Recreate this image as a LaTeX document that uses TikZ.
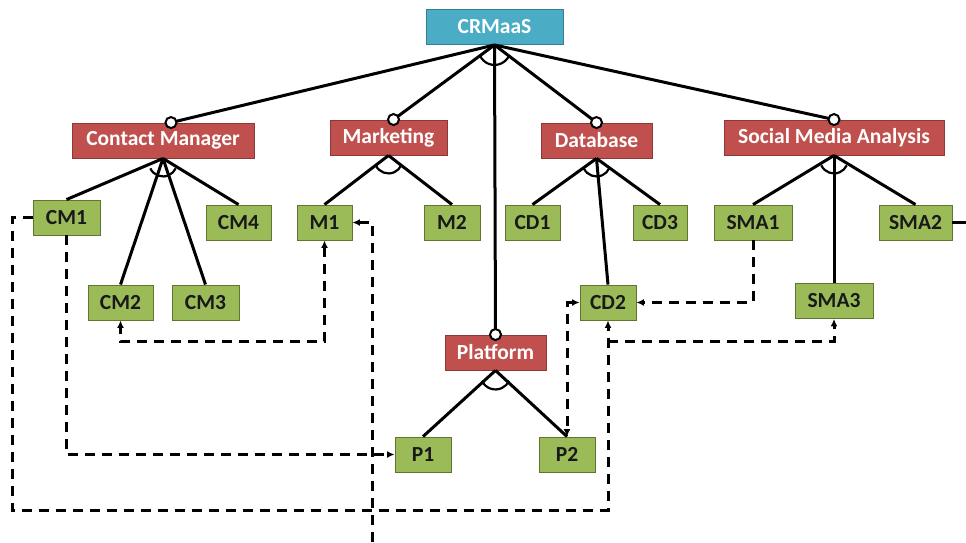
\documentclass[tikz,border=0pt]{standalone}
\usepackage{fontspec}
\setmainfont{Carlito}
\usetikzlibrary{arrows.meta,calc}

\definecolor{rootfill}{HTML}{4BACC6}
\definecolor{rootline}{HTML}{357D91}
\definecolor{featfill}{HTML}{C0504D}
\definecolor{featline}{HTML}{8C3836}
\definecolor{leaffill}{HTML}{9BBB59}
\definecolor{leafline}{HTML}{5F7530}

% group arc hanging just below a parent's junction point
\newcommand\grouparc[2]{%
  \draw[line width=2.2pt] ([shift={(-155:#2)},yshift=-4pt]#1)
    arc[start angle=-155,end angle=-25,radius=#2];}
% optional-feature marker
\newcommand\optmark[1]{%
  \draw[line width=2pt,fill=white] (#1) circle[radius=5.5pt];}

\begin{document}
\begin{tikzpicture}[x=1pt,y=-1pt,
  box/.style={draw,line width=0.9pt,inner sep=0pt,minimum height=35pt,
    font=\bfseries\fontsize{21.5}{24}\selectfont},
  root/.style={box,fill=rootfill,draw=rootline,text=white},
  feat/.style={box,fill=featfill,draw=featline,text=white},
  leaf/.style={box,fill=leaffill,draw=leafline,text=black!90},
  tree/.style={line width=3pt},
  dep/.style={line width=3pt,dash pattern=on 10pt off 7pt},
  >={Latex[length=7.5pt,width=7pt]}]

\useasboundingbox (0,0) rectangle (966,542);

% features
\node[root,minimum width=137pt] (crm) at (494.5,27) {CRMaaS};
\node[feat,minimum width=182pt] (cm)  at (163,140.5) {Contact Manager};
\node[feat,minimum width=117pt] (mk)  at (388.5,137.5) {Marketing};
\node[feat,minimum width=111pt] (db)  at (596.5,140.5) {Database};
\node[feat,minimum width=220pt] (sma) at (834,137.5) {Social Media Analysis};
\node[feat,minimum width=101pt] (pf)  at (495.5,352.5) {Platform};

\node[leaf,minimum width=67pt] (cm1)  at (66.5,217.5) {CM1};
\node[leaf,minimum width=65pt] (cm4)  at (238.5,222.5) {CM4};
\node[leaf,minimum width=55pt] (m1)   at (324.5,222.5) {M1};
\node[leaf,minimum width=56pt] (m2)   at (452,222.5) {M2};
\node[leaf,minimum width=55pt] (cd1)  at (532.5,222.5) {CD1};
\node[leaf,minimum width=54pt] (cd3)  at (660,222.5) {CD3};
\node[leaf,minimum width=78pt] (sma1) at (753,222.5) {SMA1};
\node[leaf,minimum width=73pt] (sma2) at (915.5,222.5) {SMA2};
\node[leaf,minimum width=65pt] (cm2)  at (120.5,302.5) {CM2};
\node[leaf,minimum width=67pt] (cm3)  at (205.5,302.5) {CM3};
\node[leaf,minimum width=56pt] (cd2)  at (608,302.5) {CD2};
\node[leaf,minimum width=78pt] (sma3) at (834,301) {SMA3};
\node[leaf,minimum width=56pt] (p1)   at (423,454.5) {P1};
\node[leaf,minimum width=56pt] (p2)   at (567,454.5) {P2};

% attachment points of optional features
\coordinate (cmtop)  at ($(cm.north)+(8,0)$);
\coordinate (mktop)  at ($(mk.north)+(5,0)$);
\coordinate (dbtop)  at (db.north);
\coordinate (smatop) at (sma.north);
\coordinate (pftop)  at (pf.north);

% decomposition of the root
\draw[tree] (crm.south) -- (cmtop);
\draw[tree] (crm.south) -- (mktop);
\draw[tree] (crm.south) -- (pftop);
\draw[tree] (crm.south) -- (dbtop);
\draw[tree] (crm.south) -- (smatop);
\grouparc{crm.south}{16pt}
\optmark{cmtop}
\optmark{mktop}
\optmark{dbtop}
\optmark{smatop}
\optmark{pftop}

% sub-features
\draw[tree] (cm.south) -- (cm1.north);
\draw[tree] (cm.south) -- (cm2.north);
\draw[tree] (cm.south) -- (cm3.north);
\draw[tree] (cm.south) -- (cm4.north);
\grouparc{cm.south}{14pt}

\draw[tree] (mk.south) -- (m1.north);
\draw[tree] (mk.south) -- (m2.north);
\grouparc{mk.south}{14pt}

\draw[tree] (db.south) -- (cd1.north);
\draw[tree] (db.south) -- (cd2.north);
\draw[tree] (db.south) -- (cd3.north);
\grouparc{db.south}{14pt}

\draw[tree] (sma.south) -- (sma1.north);
\draw[tree] (sma.south) -- (sma3.north);
\draw[tree] (sma.south) -- (sma2.north);
\grouparc{sma.south}{14pt}

\draw[tree] (pf.south) -- (p1.north);
\draw[tree] (pf.south) -- (p2.north);
\grouparc{pf.south}{15pt}

% cross-tree constraints
\coordinate (loopL)  at (12,217.5);
\coordinate (loopB)  at (12,510);
\coordinate (mfoot)  at (372,542);
\coordinate (sma2out) at (966,222.5);

\draw[dep,->] (cm1.west) -- (loopL) -- (loopB) -| (cd2.south);
\draw[dep,->] ($(cd2.south)+(0,21)$) -| (sma3.south);
\draw[dep,->] (cm1.south) |- (p1.west);
\draw[dep,<->] (m1.south) -- ++(0,101) -| (cm2.south);
\draw[dep,->] (mfoot) |- (m1.east);
\draw[dep,->] (sma1.south) |- (cd2.east);
\draw[dep,<->] (cd2.west) -| (p2.north);
\draw[tree] (sma2.east) -- (sma2out);

\end{tikzpicture}
\end{document}
